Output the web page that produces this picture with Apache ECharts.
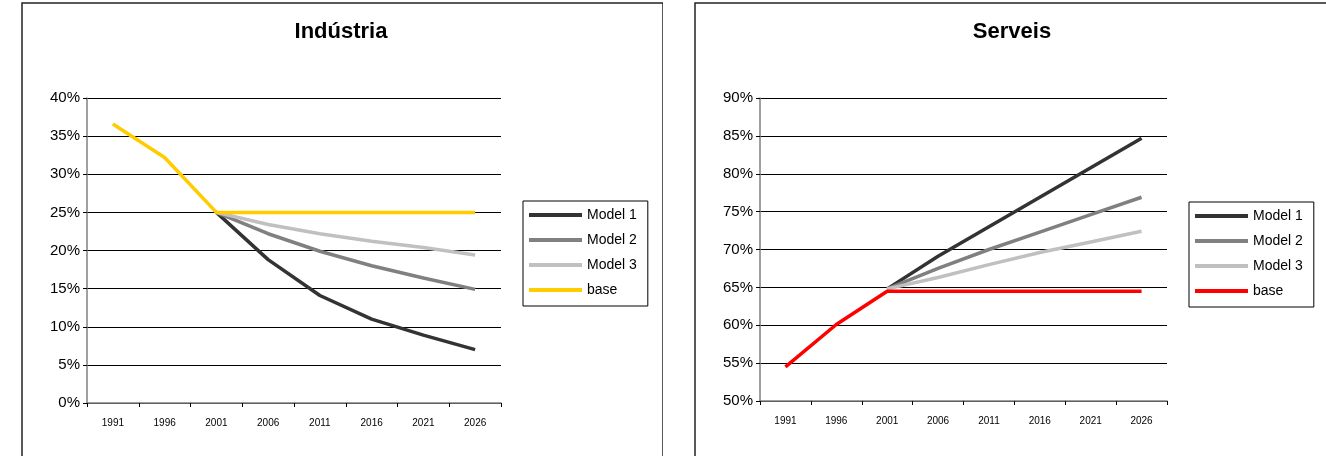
<!DOCTYPE html>
<html>
<head>
<meta charset="utf-8">
<script src="https://cdn.jsdelivr.net/npm/echarts@6/dist/echarts.min.js"></script>
<style>
  html, body { margin: 0; padding: 0; background: #fff; }
  #wrap { position: relative; width: 1326px; height: 456px; overflow: hidden; }
  .panel { position: absolute; top: 0; width: 663px; height: 456px; }
</style>
</head>
<body>
<div id="wrap">
  <div id="left" class="panel" style="left:0"></div>
  <div id="right" class="panel" style="left:663px"></div>
</div>
<script>
// Census years and projection horizon
const years = ['1991', '1996', '2001', '2006', '2011', '2016', '2021', '2026'];
const seriesNames = ['Model 1', 'Model 2', 'Model 3', 'base'];

// Indústria: share of employment (%); projections start in 2001
const indModel1 = [null, null, 25.0, 18.8, 14.1, 11.0, 8.9, 7.0];
const indModel2 = [null, null, 25.0, 22.2, 19.9, 18.0, 16.4, 14.9];
const indModel3 = [null, null, 25.0, 23.4, 22.2, 21.2, 20.4, 19.4];
const indBase   = [36.6, 32.2, 25.0, 25.0, 25.0, 25.0, 25.0, 25.0];

// Serveis: share of employment (%); projections start in 2001
const serModel1 = [null, null, 64.8, 69.1, 73.0, 76.9, 80.8, 84.7];
const serModel2 = [null, null, 64.8, 67.5, 70.0, 72.3, 74.6, 76.9];
const serModel3 = [null, null, 64.8, 66.3, 68.0, 69.6, 71.0, 72.4];
const serBase   = [54.5, 60.1, 64.5, 64.5, 64.5, 64.5, 64.5, 64.5];

// y-axis ranges (%)
const indAxis = { min: 0, max: 40, interval: 5 };
const serAxis = { min: 50, max: 90, interval: 5 };

const FONT = '"Liberation Sans", Arial, sans-serif';
const AXIS_GRAY = '#808080';

function buildOption(cfg) {
  const colors = ['#333333', '#808080', '#c0c0c0', cfg.baseColor];
  return {
    animation: false,
    textStyle: { fontFamily: FONT },
    graphic: [
      {
        type: 'rect',
        shape: cfg.frame,
        style: { fill: 'none', stroke: '#222', lineWidth: 1.5 },
        silent: true
      },
      {
        type: 'text',
        x: cfg.titleX, y: 32,
        style: {
          text: cfg.title, fill: '#000',
          font: 'bold 22px ' + FONT,
          textAlign: 'center', textVerticalAlign: 'middle'
        }
      }
    ],
    legend: {
      orient: 'vertical',
      left: cfg.legendLeft, top: cfg.legendTop,
      padding: [7, 11, 9, 6],
      itemGap: 11,
      itemWidth: 53, itemHeight: 4,
      icon: 'rect',
      borderColor: '#000', borderWidth: 1,
      data: seriesNames,
      textStyle: { fontFamily: FONT, fontSize: 14, color: '#000' }
    },
    grid: cfg.grid,
    xAxis: {
      type: 'category',
      data: years,
      boundaryGap: true,
      axisLine: { lineStyle: { color: AXIS_GRAY, width: 1.5 } },
      axisTick: { show: true, interval: 0, length: 4, lineStyle: { color: '#000' } },
      axisLabel: { interval: 0, fontSize: 10, color: '#000', margin: 15, fontFamily: FONT },
      splitLine: { show: false }
    },
    yAxis: {
      type: 'value',
      min: cfg.axis.min, max: cfg.axis.max, interval: cfg.axis.interval,
      axisLine: { show: true, lineStyle: { color: AXIS_GRAY, width: 1.5 } },
      axisTick: { show: true, length: 4, lineStyle: { color: '#000' } },
      axisLabel: { formatter: '{value}%', fontSize: 15, color: '#000', margin: 7, fontFamily: FONT },
      splitLine: { show: true, lineStyle: { color: '#000', width: 1 } }
    },
    series: cfg.data.map((d, i) => ({
      name: seriesNames[i],
      type: 'line',
      data: d,
      symbol: 'none',
      color: colors[i],
      lineStyle: { width: 3.5, color: colors[i] },
      z: 2 + i
    }))
  };
}

const leftChart = echarts.init(document.getElementById('left'), null, { renderer: 'canvas' });
leftChart.setOption(buildOption({
  title: 'Indústria',
  titleX: 341,
  frame: { x: 22, y: 3, width: 641, height: 480 },
  grid: { left: 87, top: 98, width: 414, height: 305 },
  legendLeft: 523, legendTop: 201,
  axis: indAxis,
  baseColor: '#ffcc00',
  data: [indModel1, indModel2, indModel3, indBase]
}));

const rightChart = echarts.init(document.getElementById('right'), null, { renderer: 'canvas' });
rightChart.setOption(buildOption({
  title: 'Serveis',
  titleX: 349,
  frame: { x: 32, y: 3, width: 700, height: 480 },
  grid: { left: 97, top: 98, width: 407, height: 303 },
  legendLeft: 526, legendTop: 202,
  axis: serAxis,
  baseColor: '#ff0000',
  data: [serModel1, serModel2, serModel3, serBase]
}));
</script>
</body>
</html>
